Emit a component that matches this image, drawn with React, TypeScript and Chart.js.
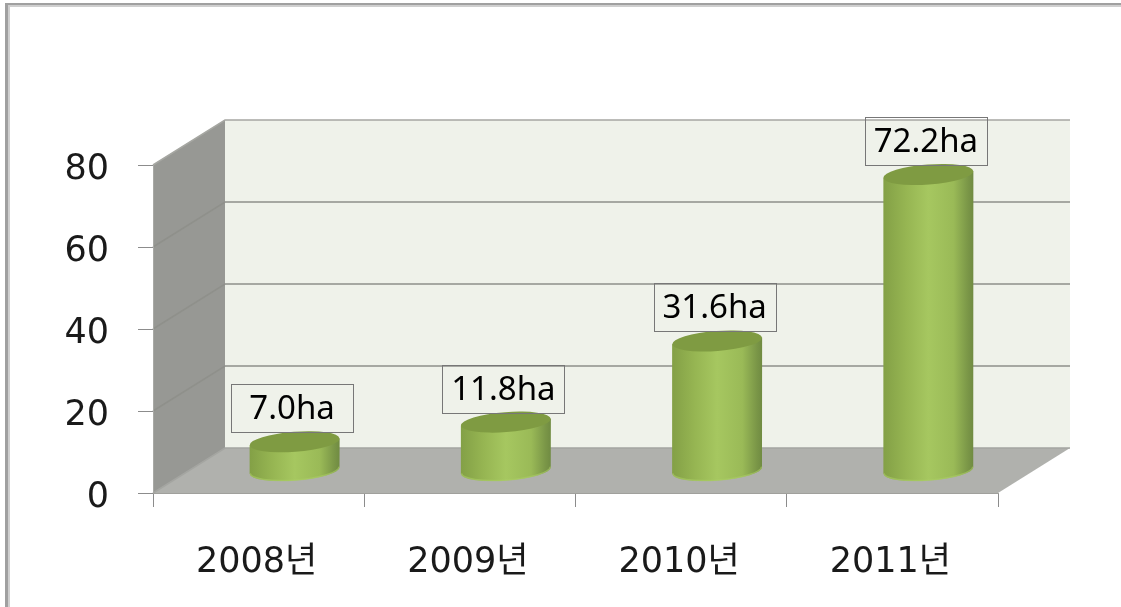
import React, { useEffect, useRef } from "react";
import { Chart, registerables } from "chart.js";

Chart.register(...registerables);

const categories = ["2008년", "2009년", "2010년", "2011년"];
const areaValues = [7.0, 11.8, 31.6, 72.2];
const valueLabels = ["7.0ha", "11.8ha", "31.6ha", "72.2ha"];
const yTicks = [0, 20, 40, 60, 80];

const DEPTH_X = 72;
const DEPTH_Y = 45;
const RX = 45;
const RY = 10;
const TILT = -0.075;

const scene = {
  id: "scene3d",
  beforeDraw(chart: any) {
    const { ctx, chartArea: a } = chart;
    ctx.save();
    ctx.fillStyle = "#ffffff";
    ctx.fillRect(0, 0, chart.width, chart.height);
    // page frame (top and left only)
    ctx.fillStyle = "#cfcfcf";
    ctx.fillRect(5, 3, 5, chart.height - 3);
    ctx.fillRect(5, 3, chart.width - 5, 4);
    ctx.fillStyle = "#a0a0a0";
    ctx.fillRect(5, 3, 3, chart.height - 3);
    ctx.fillRect(5, 3, chart.width - 5, 2);
    // back wall
    ctx.fillStyle = "#eff2ea";
    ctx.fillRect(a.left + DEPTH_X, a.top - DEPTH_Y, a.right - a.left, a.bottom - a.top);
    // side wall
    ctx.fillStyle = "#979894";
    ctx.beginPath();
    ctx.moveTo(a.left, a.top);
    ctx.lineTo(a.left + DEPTH_X, a.top - DEPTH_Y);
    ctx.lineTo(a.left + DEPTH_X, a.bottom - DEPTH_Y);
    ctx.lineTo(a.left, a.bottom);
    ctx.closePath();
    ctx.fill();
    // floor
    ctx.fillStyle = "#b0b1ad";
    ctx.beginPath();
    ctx.moveTo(a.left, a.bottom);
    ctx.lineTo(a.left + DEPTH_X, a.bottom - DEPTH_Y);
    ctx.lineTo(a.right + DEPTH_X, a.bottom - DEPTH_Y);
    ctx.lineTo(a.right, a.bottom);
    ctx.closePath();
    ctx.fill();
    // gridlines from the value scale
    const y = chart.scales.y;
    yTicks.forEach((v) => {
      const py = y.getPixelForValue(v);
      ctx.strokeStyle = v === 0 ? "#a4a5a1" : v === 80 ? "#a6a7a2" : "#8f908b";
      ctx.lineWidth = 1.5;
      ctx.beginPath();
      ctx.moveTo(a.left, py);
      ctx.lineTo(a.left + DEPTH_X, py - DEPTH_Y);
      ctx.lineTo(a.right + DEPTH_X, py - DEPTH_Y);
      ctx.stroke();
    });
    // left edge of the side wall
    ctx.strokeStyle = "#a8a9a5";
    ctx.lineWidth = 1;
    ctx.beginPath();
    ctx.moveTo(a.left + 0.5, a.top);
    ctx.lineTo(a.left + 0.5, a.bottom);
    ctx.stroke();
    ctx.restore();
  },
  afterDatasetsDraw(chart: any) {
    const { ctx } = chart;
    const base = chart.scales.y.getPixelForValue(0);
    chart.getDatasetMeta(0).data.forEach((el: any, i: number) => {
      const cx = el.x + DEPTH_X / 2;
      const top = el.y - DEPTH_Y / 2;
      const bot = base - DEPTH_Y / 2;
      const dy = RX * Math.sin(TILT);
      ctx.save();
      const g = ctx.createLinearGradient(cx - RX, 0, cx + RX, 0);
      g.addColorStop(0, "#83a046");
      g.addColorStop(0.25, "#96b552");
      g.addColorStop(0.5, "#a6c760");
      g.addColorStop(0.78, "#9aba57");
      g.addColorStop(0.94, "#7a9647");
      g.addColorStop(1, "#708b42");
      ctx.fillStyle = g;
      ctx.beginPath();
      ctx.moveTo(cx - RX, top - dy);
      ctx.lineTo(cx - RX, bot - dy);
      ctx.ellipse(cx, bot, RX, RY, TILT, Math.PI, 0, true);
      ctx.lineTo(cx + RX, top + dy);
      ctx.closePath();
      ctx.fill();
      // lighter rim at the foot of the cylinder
      ctx.strokeStyle = "rgba(170,205,100,0.6)";
      ctx.lineWidth = 1.5;
      ctx.beginPath();
      ctx.ellipse(cx, bot - 0.5, RX - 0.5, RY, TILT, Math.PI, 0, true);
      ctx.stroke();
      ctx.fillStyle = "#7f9b42";
      ctx.beginPath();
      ctx.ellipse(cx, top, RX, RY, TILT, 0, Math.PI * 2);
      ctx.fill();
      // value label box
      const bw = 122;
      const bh = 48;
      const bx = el.x + 33.5 - bw / 2;
      const by = el.y - 32 - bh;
      ctx.strokeStyle = "#777777";
      ctx.lineWidth = 1;
      ctx.strokeRect(Math.round(bx) + 0.5, Math.round(by) + 0.5, bw, bh);
      ctx.fillStyle = "#000000";
      ctx.font = '33px "Noto Sans", sans-serif';
      ctx.textAlign = "center";
      ctx.textBaseline = "middle";
      ctx.fillText(valueLabels[i], bx + bw / 2, by + bh / 2 + 1.5);
      ctx.restore();
    });
  },
};

const axisFont = { family: '"DejaVu Sans", "Noto Sans CJK KR", sans-serif', size: 35 };

export default function App() {
  const ref = useRef<HTMLCanvasElement>(null);
  useEffect(() => {
    const chart = new Chart(ref.current!, {
      type: "bar",
      data: {
        labels: categories,
        datasets: [
          {
            label: "면적",
            data: areaValues,
            backgroundColor: "rgba(0,0,0,0)",
            borderWidth: 0,
            barThickness: 90,
          },
        ],
      },
      plugins: [scene],
      options: {
        responsive: false,
        animation: false,
        layout: { padding: { top: 165, right: 123, left: 0, bottom: 0 } },
        plugins: { legend: { display: false }, tooltip: { enabled: false } },
        scales: {
          x: {
            afterFit: (s: any) => {
              s.height = 114;
            },
            grid: { drawOnChartArea: false, color: "#8c8c8c", tickLength: 14, offset: true },
            border: { color: "#a0a09c", width: 1 },
            ticks: { color: "#1a1a1a", font: axisFont, padding: 35, maxRotation: 0, labelOffset: -2 },
          },
          y: {
            min: 0,
            max: 80,
            afterFit: (s: any) => {
              s.width = 153;
            },
            afterBuildTicks: (s: any) => {
              s.ticks = yTicks.map((value) => ({ value }));
            },
            grid: { drawOnChartArea: false, color: "#8c8c8c", tickLength: 15 },
            border: { display: false },
            ticks: { color: "#1a1a1a", font: axisFont, padding: 29, labelOffset: 5 },
          },
        },
      },
    });
    return () => chart.destroy();
  }, []);
  return (
    <div style={{ position: "absolute", left: 0, top: 0 }}>
      <canvas ref={ref} width={1121} height={607} style={{ display: "block" }} />
    </div>
  );
}
